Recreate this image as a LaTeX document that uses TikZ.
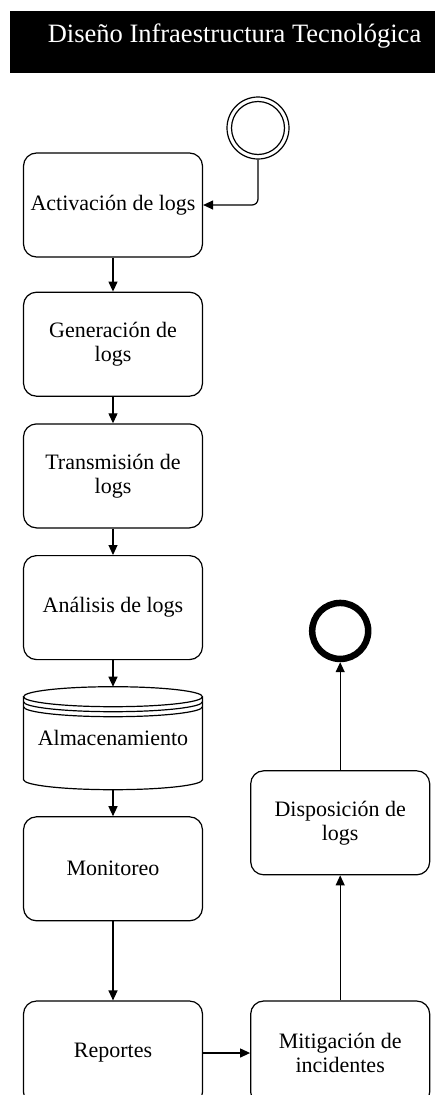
\documentclass[tikz,border=0pt]{standalone}
\usepackage{fontspec}
\setmainfont{Liberation Serif}
\usetikzlibrary{arrows.meta,positioning}

\begin{document}
\begin{tikzpicture}[x=1pt,y=1pt,line width=1.2pt,>={Triangle[length=10pt,width=9pt]},
    font=\fontsize{22}{24}\selectfont,node distance=26.5pt,
    paso/.style={draw,rounded corners=13pt,minimum width=179pt,minimum height=104pt,align=center,inner sep=2pt},
    almacen/.style={minimum width=179pt,minimum height=103pt,outer sep=0pt},
    inicio/.style={draw,circle,minimum size=62pt,inner sep=0pt},
    fin/.style={draw,circle,line width=6.5pt,minimum size=56pt,inner sep=0pt}]
    \useasboundingbox (0,0) rectangle (435,-1095);
    \node (0) [fill=black,minimum width=426pt,minimum height=62pt,anchor=north west,inner sep=0pt] at (9,-10) {};
    \node (t) [anchor=base,text=white,font=\fontsize{26.5}{30}\selectfont] at (234.5,-42) {Diseño Infraestructura Tecnológica};
    \node (1) [inicio] at (258,-128) {};
    \draw (1.center) circle (26.5);
    \node (2) [paso] at (113,-205) {Activación de logs};
    \node (3) [paso,below=34pt of 2] {Generación de\\logs};
    \node (4) [paso,below=of 3] {Transmisión de\\logs};
    \node (5) [paso,below=of 4] {Análisis de logs};
    \node (6) [almacen,below=of 5] {Almacenamiento};
    \node (7) [paso,below=of 6] {Monitoreo};
    \node (8) [paso,below=79pt of 7] {Reportes};
    \node (9) [paso,right=47pt of 8] {Mitigación de\\incidentes};
    \node (10) [paso,above=125pt of 9] {Disposición de\\logs};
    \node (11) [fin,above=108pt of 10] {};
    % almacenamiento
    \draw ([yshift=-10pt]6.north west) -- ([yshift=10pt]6.south west)
      arc[start angle=180,end angle=360,x radius=89.5,y radius=10]
      -- ([yshift=-10pt]6.north east)
      arc[start angle=0,end angle=360,x radius=89.5,y radius=10];
    \draw ([yshift=-15pt]6.north west) arc[start angle=180,end angle=360,x radius=89.5,y radius=10];
    \draw ([yshift=-20pt]6.north west) arc[start angle=180,end angle=360,x radius=89.5,y radius=10];
    \draw[->,rounded corners=6pt] (1.south) |- (2.east);
    \path[->]
    (2) edge (3)
    (3) edge (4)
    (4) edge (5)
    (5) edge (6)
    (6) edge (7)
    (7) edge (8)
    (8) edge (9)
    (9) edge (10)
    (10) edge (11)
    ;
\end{tikzpicture}
\end{document}
